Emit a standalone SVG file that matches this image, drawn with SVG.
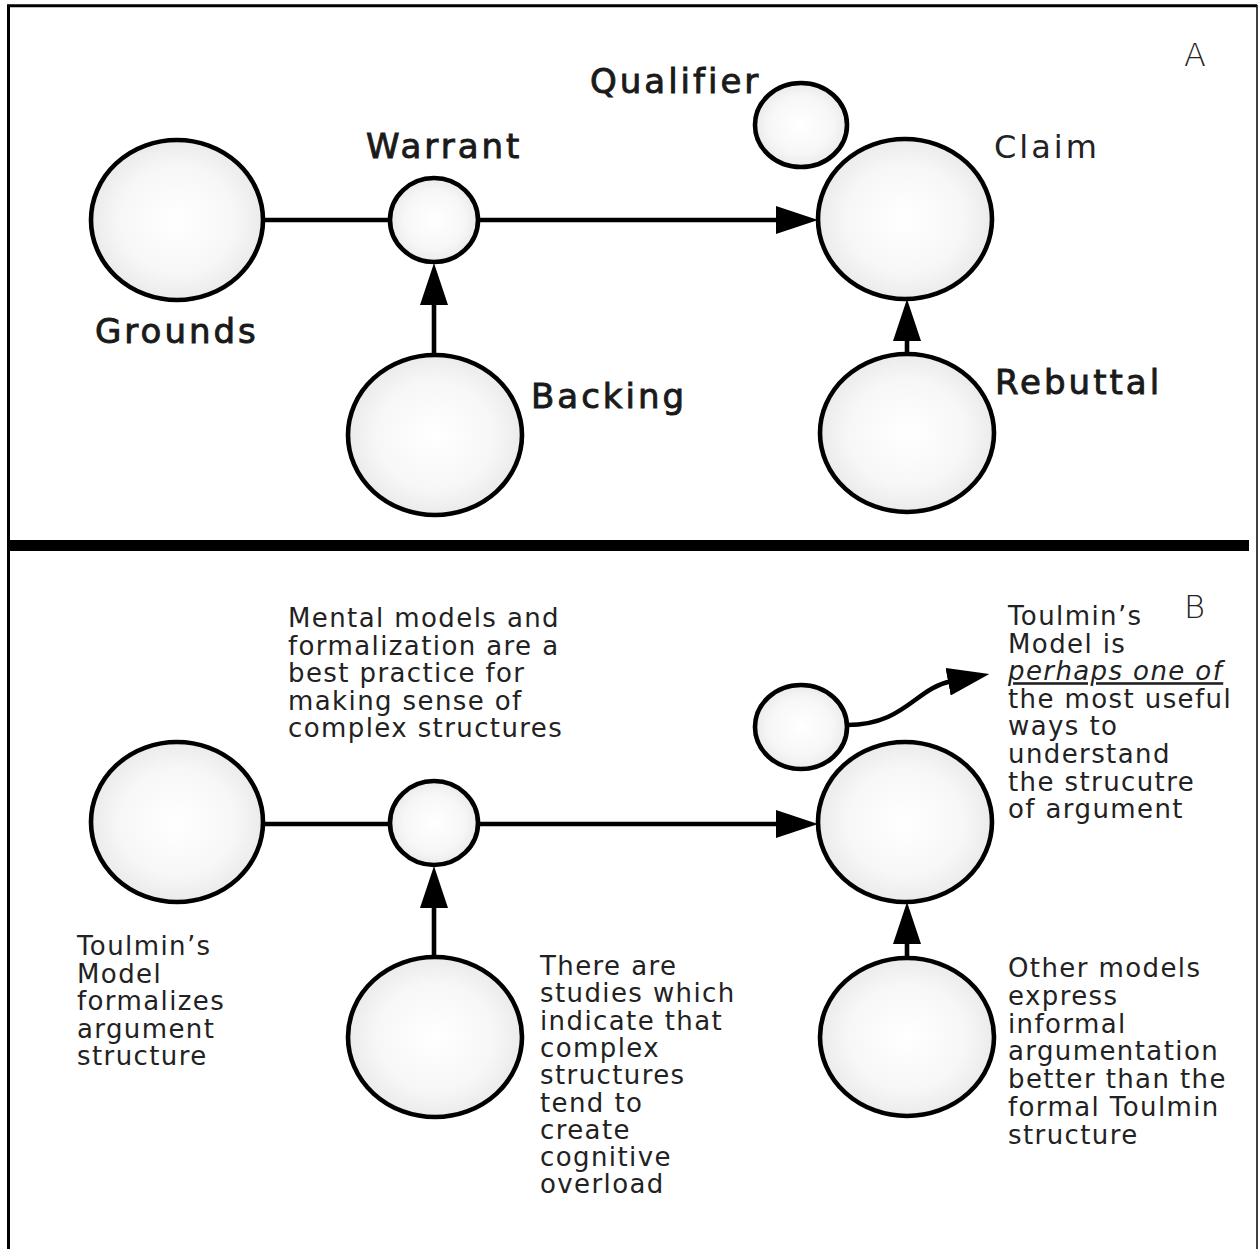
<svg xmlns="http://www.w3.org/2000/svg" width="1259" height="1249" viewBox="0 0 1259 1249">
  <defs>
    <radialGradient id="ballFill" cx="50%" cy="50%" r="52%">
      <stop offset="0" stop-color="#ffffff"/>
      <stop offset="0.65" stop-color="#f7f7f7"/>
      <stop offset="1" stop-color="#e9e9e9"/>
    </radialGradient>
    <marker id="head" markerUnits="userSpaceOnUse" markerWidth="42" markerHeight="28" refX="4" refY="14" orient="auto">
      <path d="M0,0 L42,14 L0,28 Z" fill="#000"/>
    </marker>
    <style>
      .node { fill: url(#ballFill); stroke: #000; stroke-width: 4.6; }
      .link { fill: none; stroke: #000; stroke-width: 4.6; }
      .arrow { fill: none; stroke: #000; stroke-width: 4.6; marker-end: url(#head); }
      .label { font-family: "DejaVu Sans", "Liberation Sans", sans-serif; font-size: 34px; fill: #1a1a1a; stroke: #1a1a1a; stroke-width: 0.9px; letter-spacing: 3px; }
      .plain { font-family: "DejaVu Sans", "Liberation Sans", sans-serif; font-size: 32px; fill: #222; letter-spacing: 3px; }
      .panel { font-family: "DejaVu Sans", "Liberation Sans", sans-serif; font-size: 32px; font-weight: 300; fill: #222; }
      .body { font-family: "DejaVu Sans", "Liberation Sans", sans-serif; font-size: 26px; fill: #222; letter-spacing: 1.4px; }
      .emph { font-style: italic; text-decoration: underline; }
    </style>
  </defs>

  <rect width="1259" height="1249" fill="#fff"/>

  <!-- frame and panel divider -->
  <g id="frame">
    <path d="M8.5,1249 L8.5,5.8 L1257,5.8" fill="none" stroke="#000" stroke-width="3"/>
    <line x1="1257" y1="5" x2="1257" y2="1249" stroke="#111" stroke-width="1.6"/>
    <rect x="9" y="540" width="1240" height="11" fill="#000"/>
  </g>

  <!-- connectors -->
  <g id="connectors">
    <!-- panel A -->
    <line class="link" x1="263" y1="220" x2="390" y2="220"/>
    <line class="arrow" x1="478" y1="220" x2="780" y2="220"/>
    <line class="arrow" x1="434" y1="356" x2="434" y2="301"/>
    <line class="arrow" x1="907" y1="355" x2="907" y2="337"/>
    <!-- panel B -->
    <line class="link" x1="263" y1="824" x2="390" y2="824"/>
    <line class="arrow" x1="478" y1="824" x2="780" y2="824"/>
    <line class="arrow" x1="434" y1="958" x2="434" y2="904"/>
    <line class="arrow" x1="907" y1="958" x2="907" y2="940"/>
    <path class="arrow" d="M847,725 C905,725 915,688 952,681"/>
  </g>

  <!-- panel A nodes -->
  <g id="a-grounds">
    <ellipse class="node" cx="177" cy="220" rx="86" ry="80"/>
    <text class="label" x="95" y="343">Grounds</text>
  </g>
  <g id="a-warrant">
    <ellipse class="node" cx="434" cy="220" rx="44" ry="42"/>
    <text class="label" x="366" y="158">Warrant</text>
  </g>
  <g id="a-backing">
    <ellipse class="node" cx="435" cy="435" rx="87" ry="80"/>
    <text class="label" x="531" y="408">Backing</text>
  </g>
  <g id="a-qualifier">
    <ellipse class="node" cx="801" cy="125" rx="46" ry="42"/>
    <text class="label" x="590" y="93">Qualifier</text>
  </g>
  <g id="a-claim">
    <ellipse class="node" cx="905" cy="219" rx="87" ry="80"/>
    <text class="plain" x="994" y="158">Claim</text>
  </g>
  <g id="a-rebuttal">
    <ellipse class="node" cx="907" cy="433" rx="87" ry="79"/>
    <text class="label" x="995" y="394">Rebuttal</text>
  </g>
  <text class="panel" x="1184" y="66">A</text>

  <!-- panel B nodes -->
  <g id="b-grounds">
    <ellipse class="node" cx="177" cy="822" rx="86" ry="80"/>
    <text class="body" x="77" y="955">
      <tspan x="77" y="955">Toulmin’s</tspan>
      <tspan x="77" y="982.5">Model</tspan>
      <tspan x="77" y="1010">formalizes</tspan>
      <tspan x="77" y="1037.5">argument</tspan>
      <tspan x="77" y="1065">structure</tspan>
    </text>
  </g>
  <g id="b-warrant">
    <ellipse class="node" cx="434" cy="823" rx="44" ry="42"/>
    <text class="body" x="288" y="627">
      <tspan x="288" y="627">Mental models and</tspan>
      <tspan x="288" y="654.5">formalization are a</tspan>
      <tspan x="288" y="682">best practice for</tspan>
      <tspan x="288" y="709.5">making sense of</tspan>
      <tspan x="288" y="737">complex structures</tspan>
    </text>
  </g>
  <g id="b-backing">
    <ellipse class="node" cx="435" cy="1037" rx="87" ry="80"/>
    <text class="body" x="540" y="975">
      <tspan x="540" y="975">There are</tspan>
      <tspan x="540" y="1002.3">studies which</tspan>
      <tspan x="540" y="1029.6">indicate that</tspan>
      <tspan x="540" y="1056.9">complex</tspan>
      <tspan x="540" y="1084.2">structures</tspan>
      <tspan x="540" y="1111.5">tend to</tspan>
      <tspan x="540" y="1138.8">create</tspan>
      <tspan x="540" y="1166.1">cognitive</tspan>
      <tspan x="540" y="1193.4">overload</tspan>
    </text>
  </g>
  <g id="b-qualifier">
    <ellipse class="node" cx="801" cy="727" rx="46" ry="42"/>
    <text class="body" x="1008" y="625">
      <tspan x="1008" y="625">Toulmin’s</tspan>
      <tspan x="1008" y="652.6">Model is</tspan>
      <tspan x="1008" y="680.2" class="emph">perhaps one of</tspan>
      <tspan x="1008" y="707.8">the most useful</tspan>
      <tspan x="1008" y="735.4">ways to</tspan>
      <tspan x="1008" y="763">understand</tspan>
      <tspan x="1008" y="790.6">the strucutre</tspan>
      <tspan x="1008" y="818.2">of argument</tspan>
    </text>
  </g>
  <g id="b-claim">
    <ellipse class="node" cx="905" cy="822" rx="87" ry="80"/>
  </g>
  <g id="b-rebuttal">
    <ellipse class="node" cx="907" cy="1037" rx="87" ry="79"/>
    <text class="body" x="1008" y="977">
      <tspan x="1008" y="977">Other models</tspan>
      <tspan x="1008" y="1004.8">express</tspan>
      <tspan x="1008" y="1032.6">informal</tspan>
      <tspan x="1008" y="1060.4">argumentation</tspan>
      <tspan x="1008" y="1088.2">better than the</tspan>
      <tspan x="1008" y="1116">formal Toulmin</tspan>
      <tspan x="1008" y="1143.8">structure</tspan>
    </text>
  </g>
  <text class="panel" x="1184" y="618">B</text>
</svg>
